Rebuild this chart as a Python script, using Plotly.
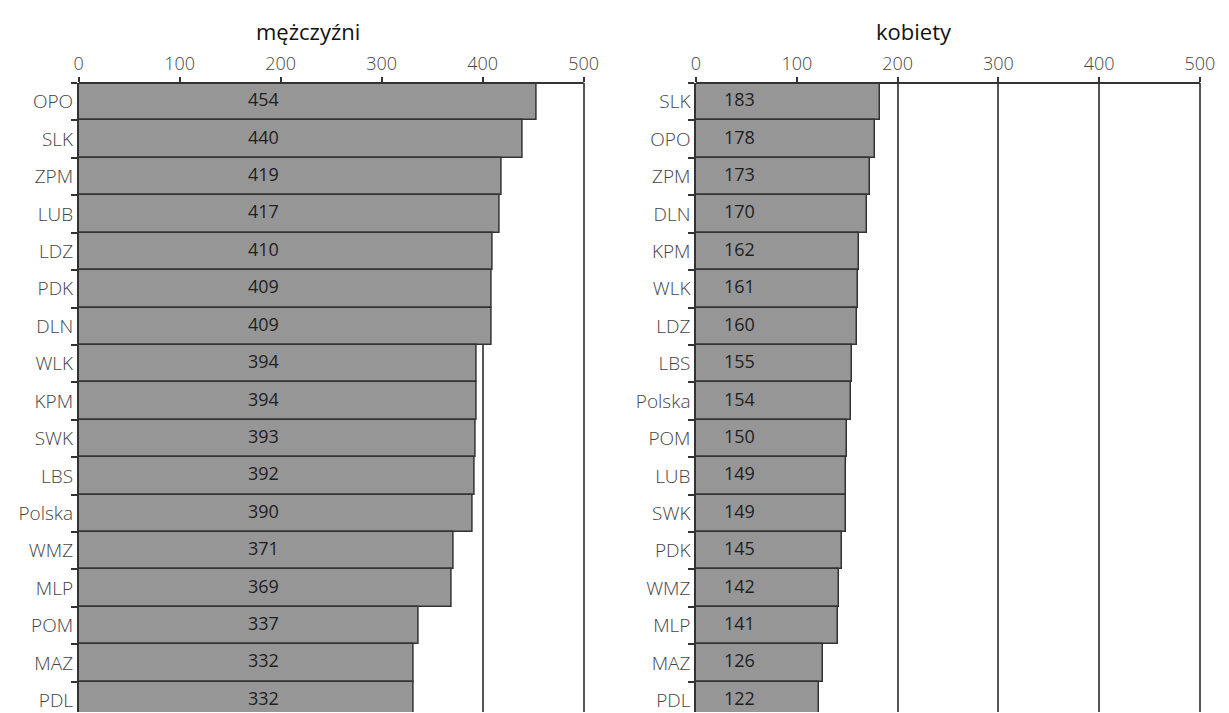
import plotly.graph_objects as go

men_regions = ["OPO", "SLK", "ZPM", "LUB", "LDZ", "PDK", "DLN", "WLK", "KPM", "SWK", "LBS", "Polska", "WMZ", "MLP", "POM", "MAZ", "PDL"]
men_values = [454, 440, 419, 417, 410, 409, 409, 394, 394, 393, 392, 390, 371, 369, 337, 332, 332]

women_regions = ["SLK", "OPO", "ZPM", "DLN", "KPM", "WLK", "LDZ", "LBS", "Polska", "POM", "LUB", "SWK", "PDK", "WMZ", "MLP", "MAZ", "PDL"]
women_values = [183, 178, 173, 170, 162, 161, 160, 155, 154, 150, 149, 149, 145, 142, 141, 126, 122]

titles = ["mężczyźni", "kobiety"]
x_ticks = [0, 100, 200, 300, 400, 500]

W, H = 1229, 713
FONT = "Open Sans"
BAR_COLOR = "#969696"
LINE_COLOR = "#333333"
XMAX = 503

fig = go.Figure()

panels = [
    (men_regions, men_values, "x", "y", 183),
    (women_regions, women_values, "x2", "y2", 43),
]
for regions, values, xa, ya, label_x in panels:
    fig.add_trace(go.Bar(
        x=values, y=regions, orientation="h", xaxis=xa, yaxis=ya,
        marker=dict(color=BAR_COLOR, line=dict(color=LINE_COLOR, width=1.5)),
        width=1.0, showlegend=False, hoverinfo="x+y",
    ))
    fig.add_trace(go.Scatter(
        x=[label_x] * len(values), y=regions, text=[str(v) for v in values],
        mode="text", xaxis=xa, yaxis=ya, showlegend=False,
        textfont=dict(family=FONT, size=18, color="#1f1f1f", weight=500),
        hoverinfo="skip", cliponaxis=False,
    ))

n = len(men_regions)
yrange = [n - 1 + 0.31, -0.5]

def xaxis_cfg(domain):
    return dict(
        domain=domain, range=[0, XMAX], side="top", tickvals=x_ticks,
        showgrid=True, gridcolor="#555555", gridwidth=1.5,
        showline=False,
        ticks="outside", ticklen=5, tickcolor=LINE_COLOR, tickwidth=1.5,
        tickfont=dict(family=FONT, size=18, color="#444444", weight=300),
        zeroline=False, fixedrange=True,
    )

def yaxis_cfg(anchor):
    return dict(
        type="category", range=yrange, anchor=anchor,
        showline=True, linecolor=LINE_COLOR, linewidth=1.5,
        ticks="outside", ticklen=6, tickcolor=LINE_COLOR, tickwidth=1.5,
        tickson="boundaries", showgrid=False,
        tickfont=dict(family=FONT, size=19, color="#444444", weight=300),
        fixedrange=True,
    )

left_dom = [74.7 / W, (74.7 + XMAX * 1.024) / W]
right_dom = [700.7 / W, (700.7 + XMAX * 1.022) / W]

fig.update_layout(
    width=W, height=H,
    margin=dict(l=0, r=0, t=83, b=0),
    paper_bgcolor="white", plot_bgcolor="white",
    xaxis=xaxis_cfg(left_dom),
    yaxis=yaxis_cfg("x"),
    xaxis2=xaxis_cfg(right_dom),
    yaxis2=yaxis_cfg("x2"),
    xaxis2_anchor="y2",
    bargap=0,
    font=dict(family=FONT),
)

# top axis line spanning 0..500 on each panel
for xa in ["x", "x2"]:
    fig.add_shape(
        type="line", xref=xa, yref="paper", x0=0, x1=500, y0=1, y1=1,
        line=dict(color=LINE_COLOR, width=2),
    )

for i, t in enumerate(titles):
    fig.add_annotation(
        text=t, xref="paper", yref="paper", x=0.25 + 0.5 * i, y=1,
        yshift=52, showarrow=False, xanchor="center", yanchor="middle",
        font=dict(family=FONT, size=22, color="#111111"),
    )

fig.write_html(
    "out.html",
    config={"displayModeBar": False},
    post_script="document.body.style.margin='0';document.body.style.overflow='hidden';",
)
